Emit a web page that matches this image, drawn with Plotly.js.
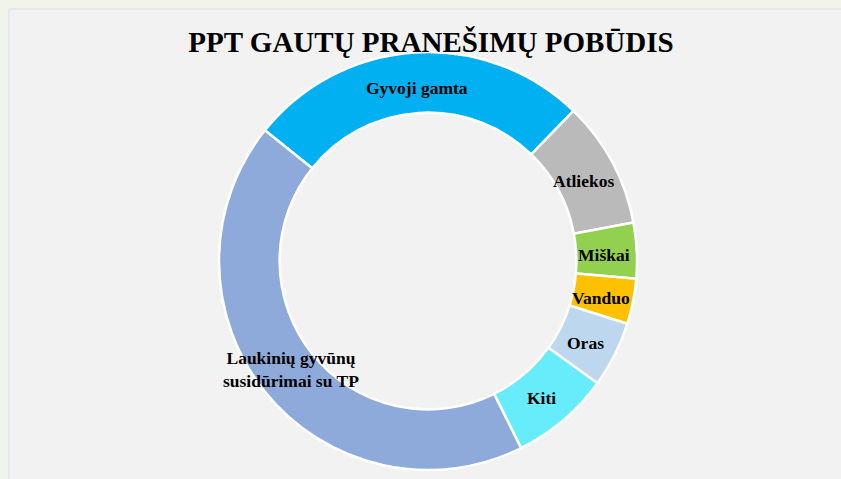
<!DOCTYPE html>
<html>
<head>
<meta charset="utf-8">
<script src="https://cdn.plot.ly/plotly-3.0.1.min.js"></script>
<style>
  html, body { margin: 0; padding: 0; background: #f1f4ea; }
  #chart { width: 841px; height: 479px; }
</style>
</head>
<body>
<div id="chart"></div>
<script>
const categories = [
  "Gyvoji gamta",
  "Atliekos",
  "Miškai",
  "Vanduo",
  "Oras",
  "Kiti",
  "Laukinių gyvūnų<br>susidūrimai su TP"
];
const shares = [26.5, 9.8, 4.3, 3.5, 5.1, 7.7, 43.1];
const sliceColors = ["#00b0f0", "#bababa", "#92d050", "#ffc000", "#bdd7ee", "#66ecfb", "#8eaadb"];
const chartTitle = "PPT GAUTŲ PRANEŠIMŲ POBŪDIS";

const W = 841, H = 479;
const cx = 428, cy = 261, R = 209;
const HOLE = 0.71;
const ROTATION = -51.3;
const LABEL_R = 176;
const labelFont = { family: "Liberation Serif, Times New Roman, serif", size: 17.5, color: "#000000", weight: 700 };

const trace = {
  type: "pie",
  labels: categories,
  values: shares,
  sort: false,
  direction: "clockwise",
  rotation: ROTATION,
  hole: HOLE,
  marker: { colors: sliceColors, line: { color: "#ffffff", width: 2.5 } },
  textinfo: "none",
  domain: {
    x: [(cx - R) / W, (cx + R) / W],
    y: [(H - cy - R) / H, (H - cy + R) / H]
  },
  showlegend: false,
  hoverinfo: "label+percent"
};

// Slice labels placed at the middle of each ring segment, derived from the data
const total = shares.reduce((a, b) => a + b, 0);
let cum = 0;
const annotations = categories.map((lab, i) => {
  const mid = ROTATION + (cum + shares[i] / 2) / total * 360;
  cum += shares[i];
  const a = mid * Math.PI / 180;
  const px = cx + LABEL_R * Math.sin(a);
  const py = cy - LABEL_R * Math.cos(a);
  const multiLine = lab.indexOf("<br>") >= 0;
  return {
    text: lab,
    xref: "paper", yref: "paper",
    x: px / W, y: 1 - py / H,
    xanchor: "center", yanchor: "middle",
    yshift: multiLine ? 2 : -3,
    showarrow: false,
    align: "center",
    font: labelFont
  };
});

const layout = {
  width: W,
  height: H,
  margin: { l: 0, r: 0, t: 0, b: 0 },
  paper_bgcolor: "#f1f4ea",
  title: {
    text: chartTitle,
    font: { family: "Liberation Serif, Times New Roman, serif", size: 29, color: "#000000", weight: 700 },
    x: 431 / W,
    xanchor: "center",
    xref: "paper",
    yref: "container",
    y: 1 - 42 / H,
    yanchor: "middle"
  },
  annotations: annotations,
  shapes: [{
    type: "rect",
    xref: "paper", yref: "paper",
    x0: 9 / W, x1: 1.01, y0: -0.01, y1: 1 - 9 / H,
    fillcolor: "#f2f2f2",
    line: { color: "#dedede", width: 1 },
    layer: "below"
  }]
};

Plotly.newPlot("chart", [trace], layout, { displayModeBar: false, staticPlot: true });
</script>
</body>
</html>
